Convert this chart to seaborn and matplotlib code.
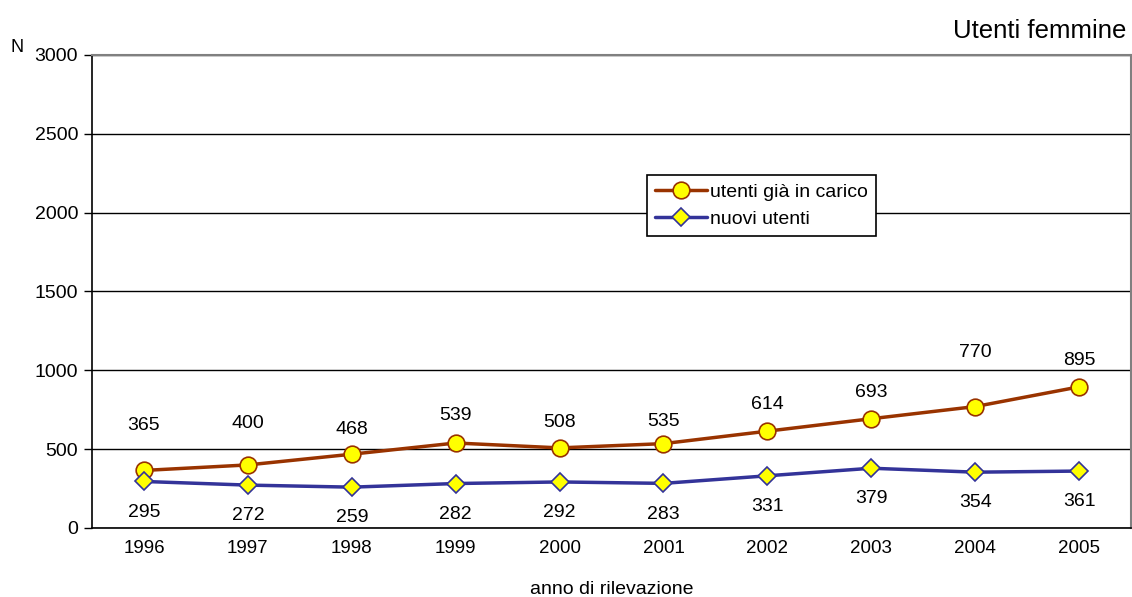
import pandas as pd
import matplotlib.pyplot as plt
import seaborn as sns
from matplotlib.ticker import FixedLocator

years = ["1996", "1997", "1998", "1999", "2000", "2001", "2002", "2003", "2004", "2005"]
gia_in_carico = [365, 400, 468, 539, 508, 535, 614, 693, 770, 895]
nuovi_utenti = [295, 272, 259, 282, 292, 283, 331, 379, 354, 361]

# label offsets (points) as placed in the original chart
top_offsets = [26, 24, 12, 14, 12, 10, 13, 13, 33, 13]

sns.set_theme(style="white")
plt.rcParams["font.family"] = ["Liberation Sans", "DejaVu Sans"]
plt.rcParams.update({"text.color": "black", "xtick.color": "black",
                     "ytick.color": "black", "axes.labelcolor": "black"})

df = pd.DataFrame({"pos": range(len(years)), "gia": gia_in_carico, "nuovi": nuovi_utenti})

fig = plt.figure(figsize=(11.32, 5.97), dpi=100)
ax = fig.add_axes([0.0813, 0.1156, 0.9178, 0.7923])

sns.lineplot(data=df, x="pos", y="gia", ax=ax, color="#993300", lw=2.5,
             marker="o", markersize=12, markerfacecolor="#FFFF00",
             markeredgecolor="#993300", markeredgewidth=1.2,
             label="utenti già in carico", zorder=4)
sns.lineplot(data=df, x="pos", y="nuovi", ax=ax, color="#333399", lw=2.5,
             marker="D", markersize=9, markerfacecolor="#FFFF00",
             markeredgecolor="#333399", markeredgewidth=1.2,
             label="nuovi utenti", zorder=4)

for i, v in enumerate(gia_in_carico):
    ax.annotate(str(v), (i, v), xytext=(0, top_offsets[i]), textcoords="offset points",
                ha="center", va="bottom", fontsize=14)
for i, v in enumerate(nuovi_utenti):
    ax.annotate(str(v), (i, v), xytext=(0, -16), textcoords="offset points",
                ha="center", va="top", fontsize=14)

ax.set_xlim(-0.5, len(years) - 0.5)
ax.set_ylim(0, 3000)
ax.set_yticks(range(0, 3001, 500))
ax.yaxis.grid(True, color="black", lw=1)
ax.set_axisbelow(True)

ax.set_xticks(range(len(years)))
ax.set_xticklabels(years)
ax.xaxis.set_minor_locator(FixedLocator([i - 0.5 for i in range(len(years) + 1)]))
ax.tick_params(axis="x", which="major", length=0, pad=9, labelsize=13.5)
ax.tick_params(axis="x", which="minor", length=6, width=1, color="black", direction="out")
ax.tick_params(axis="y", which="major", length=6, width=1, color="black", direction="out",
               left=True, labelsize=14, pad=4)

for side in ["left", "bottom"]:
    ax.spines[side].set_color("black")
    ax.spines[side].set_linewidth(1.2)
for side in ["top", "right"]:
    ax.spines[side].set_color("#808080")
    ax.spines[side].set_linewidth(1.5)

ax.set_xlabel("anno di rilevazione", fontsize=14, labelpad=17)
ax.set_ylabel("")

leg = ax.legend(loc="upper left", bbox_to_anchor=(0.534, 0.746), fontsize=14,
                frameon=True, fancybox=False, edgecolor="black", framealpha=1,
                handlelength=2.7, handletextpad=0.15, borderpad=0.4, labelspacing=0.5,
                borderaxespad=0)
leg.get_frame().set_linewidth(1.2)

fig.text(17 / 1132, 1 - 47 / 597, "N", ha="center", va="center", fontsize=13)
fig.text(1126 / 1132, 1 - 31 / 597, "Utenti femmine", ha="right", va="center", fontsize=18.5)

fig.savefig("out.png", dpi=100)
